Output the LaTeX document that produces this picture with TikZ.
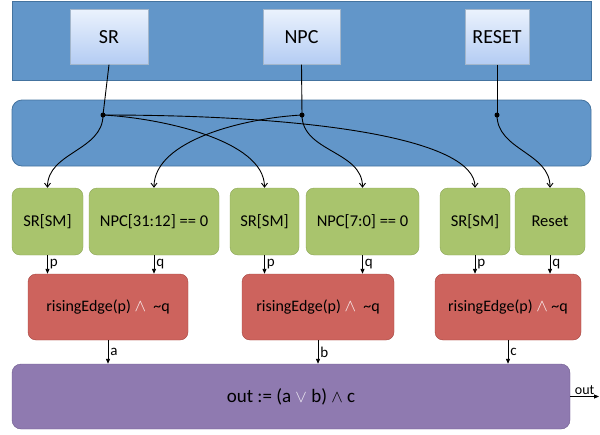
\documentclass[tikz,border=0pt]{standalone}
\usepackage{fontspec}
\setmainfont{Carlito}
\usetikzlibrary{arrows.meta}

\definecolor{bandblue}{HTML}{6296C9}
\definecolor{bandedge}{HTML}{44739F}
\definecolor{srctop}{HTML}{EBF2FD}
\definecolor{srcbot}{HTML}{B3CCF3}
\definecolor{srcedge}{HTML}{A3B6CB}
\definecolor{condgreen}{HTML}{A9C46D}
\definecolor{condedge}{HTML}{8CA557}
\definecolor{edgered}{HTML}{CD635D}
\definecolor{rededge}{HTML}{A44540}
\definecolor{outpurple}{HTML}{8F7AB0}
\definecolor{outedge}{HTML}{6E5A8D}

\begin{document}
\begin{tikzpicture}[x=1pt,y=-1pt, % one unit per pixel, y going down
  srcbox/.style={draw=srcedge, top color=srctop, bottom color=srcbot, minimum height=55, inner sep=0, font=\fontsize{20}{24}\selectfont},
  condbox/.style={draw=condedge, fill=condgreen, rounded corners=8, minimum height=67, inner sep=0, font=\fontsize{16.5}{19}\selectfont},
  edgebox/.style={draw=rededge, fill=edgered, rounded corners=8, minimum height=66, inner sep=0, font=\fontsize{16}{19}\selectfont},
  outbox/.style={draw=outedge, fill=outpurple, rounded corners=9, minimum height=65, inner sep=0, font=\fontsize{19}{23}\selectfont},
  wire/.style={line width=0.9pt},
  feed/.style={wire, -{Straight Barb[length=4pt,width=6pt]}},
  sig/.style={wire, -{Triangle[length=5pt,width=4pt]}},
  siglabel/.style={right, inner sep=2pt, font=\fontsize{15}{17}\selectfont}]
\useasboundingbox (0,0) rectangle (600,434);

% bands
\filldraw[fill=bandblue, draw=bandedge, line width=0.8pt] (12,1) rectangle (591,80);
\filldraw[fill=bandblue, draw=bandedge, line width=0.8pt, rounded corners=10] (12,100) rectangle (591,166);

% sources
\node[srcbox, minimum width=78] (sr) at (109,37) {SR};
\node[srcbox, minimum width=77] (npc) at (301.5,37) {NPC};
\node[srcbox, minimum width=64] (rst) at (497,37) {RESET};

\coordinate (jsr) at (103,115);
\coordinate (jnpc) at (302,115);
\coordinate (jrst) at (497,115);

% conditions
\node[condbox, minimum width=71] (sr1) at (47.5,221.5) {SR[SM]};
\node[condbox, minimum width=130] (npc1) at (154,221.5) {NPC[31:12] == 0};
\node[condbox, minimum width=69] (sr2) at (264.5,221.5) {SR[SM]};
\node[condbox, minimum width=113] (npc2) at (362.5,221.5) {NPC[7:0] == 0};
\node[condbox, minimum width=70] (sr3) at (475,221.5) {SR[SM]};
\node[condbox, minimum width=70] (reset) at (550,221.5) {Reset};

% edge detectors
\node[edgebox, minimum width=160] (e1) at (108,307) {risingEdge(p) \textcolor{white!90!edgered}{$\wedge$}\ \ \textasciitilde q};
\node[edgebox, minimum width=152] (e2) at (318,307) {risingEdge(p) \textcolor{white!90!edgered}{$\wedge$}\ \ \textasciitilde q};
\node[edgebox, minimum width=146] (e3) at (508,307) {risingEdge(p) \textcolor{white!90!edgered}{$\wedge$} \textasciitilde q};

% output
\node[outbox, minimum width=558] (out) at (291,396.5) {out := (a \textcolor{white!85!outpurple}{$\vee$} b) $\wedge$ c};
\coordinate (outend) at (599,396.5);

% wires from the sources
\draw[wire] (sr.south) -- (jsr);
\draw[wire] (npc.south) -- (jnpc);
\draw[wire] (rst.south) -- (jrst);
\fill (jsr) circle (2.5) (jnpc) circle (2.5) (jrst) circle (2.5);

\draw[feed] (jsr) to[out=-90,in=90] (sr1.north);
\draw[feed] (jsr) .. controls (160,118) and (264.5,140) .. (sr2.north);
\draw[feed] (jsr) .. controls (320,115) and (475,140) .. (sr3.north);
\draw[feed] (jnpc) .. controls (245,118) and (154,140) .. (npc1.north);
\draw[feed] (jnpc) to[out=-90,in=90] (npc2.north);
\draw[feed] (jrst) to[out=-90,in=90] (reset.north);

% p and q
\draw[sig] (sr1.south) -- (sr1.south |- e1.north) node[siglabel, midway] {p};
\draw[sig] (npc1.south) -- (npc1.south |- e1.north) node[siglabel, midway] {q};
\draw[sig] (sr2.south) -- (sr2.south |- e2.north) node[siglabel, midway] {p};
\draw[sig] (npc2.south) -- (npc2.south |- e2.north) node[siglabel, midway] {q};
\draw[sig] (sr3.south) -- (sr3.south |- e3.north) node[siglabel, midway] {p};
\draw[sig] (reset.south) -- (reset.south |- e3.north) node[siglabel, midway] {q};

% a, b, c
\draw[sig] (e1.south) -- (e1.south |- out.north) node[siglabel, midway] {a};
\draw[sig] (e2.south) -- (e2.south |- out.north) node[siglabel, midway] {b};
\draw[sig] (e3.south) -- (e3.south |- out.north) node[siglabel, midway] {c};
\draw[sig] (out.east) -- (outend) node[midway, above, inner sep=1pt, font=\fontsize{14}{16}\selectfont] {out};
\end{tikzpicture}
\end{document}
